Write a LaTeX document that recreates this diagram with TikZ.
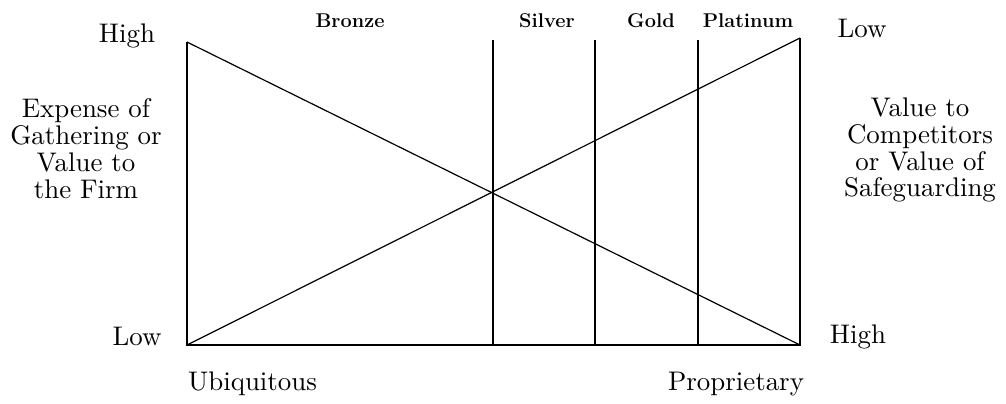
\documentclass[tikz,border=0pt]{standalone}
\usepackage{fontspec}
\newfontfamily\tenrm{lmroman10-regular.otf}
\begin{document}
\begin{tikzpicture}[x=1bp,y=-1bp,
  ln/.style={line width=1.2bp},
  lab/.style={font=\tenrm\fontsize{27}{27}\selectfont, inner sep=0pt, anchor=base},
  blk/.style={font=\tenrm\fontsize{27}{27}\selectfont, inner sep=0pt, align=center, anchor=center},
  tier/.style={font=\fontsize{20}{22}\selectfont\bfseries, inner sep=0pt, anchor=base}]
\useasboundingbox (0,0) rectangle (1006,403);
\coordinate (TL) at (187,42);
\coordinate (BL) at (187,345);
\coordinate (TR) at (800,38);
\coordinate (BR) at (800,345);
\coordinate (s1t) at (493,40); \coordinate (s1b) at (493,345);
\coordinate (s2t) at (595,40); \coordinate (s2b) at (595,345);
\coordinate (s3t) at (698,40); \coordinate (s3b) at (698,345);
\draw[ln] (TL) -- (BL) -- (BR) -- (TR);
\draw[ln] (TL) -- (BR);
\draw[ln] (BL) -- (TR);
\draw[ln] (s1t) -- (s1b);
\draw[ln] (s2t) -- (s2b);
\draw[ln] (s3t) -- (s3b);
\node[tier] (bronze) at (350,27) {Bronze};
\node[tier] (silver) at (547,27) {Silver};
\node[tier] (gold) at (651,27) {Gold};
\node[tier] (plat) at (748,27) {Platinum};
\node[lab] (hl) at (127,42) {High};
\node[lab] (ll) at (137,345) {Low};
\node[lab] (lr) at (862,37) {Low};
\node[lab] (hr) at (858,343) {High};
\node[lab, anchor=base west] (ubi) at (188,390) {Ubiquitous};
\node[lab] (prop) at (736,390) {Proprietary};
\node[blk] (lefttxt) at (86,149) {Expense of\\Gathering or\\Value to\\the Firm};
\node[blk] (righttxt) at (920,150) {Value to\\Competitors\\or Value of\\Safeguarding};
\end{tikzpicture}
\end{document}
